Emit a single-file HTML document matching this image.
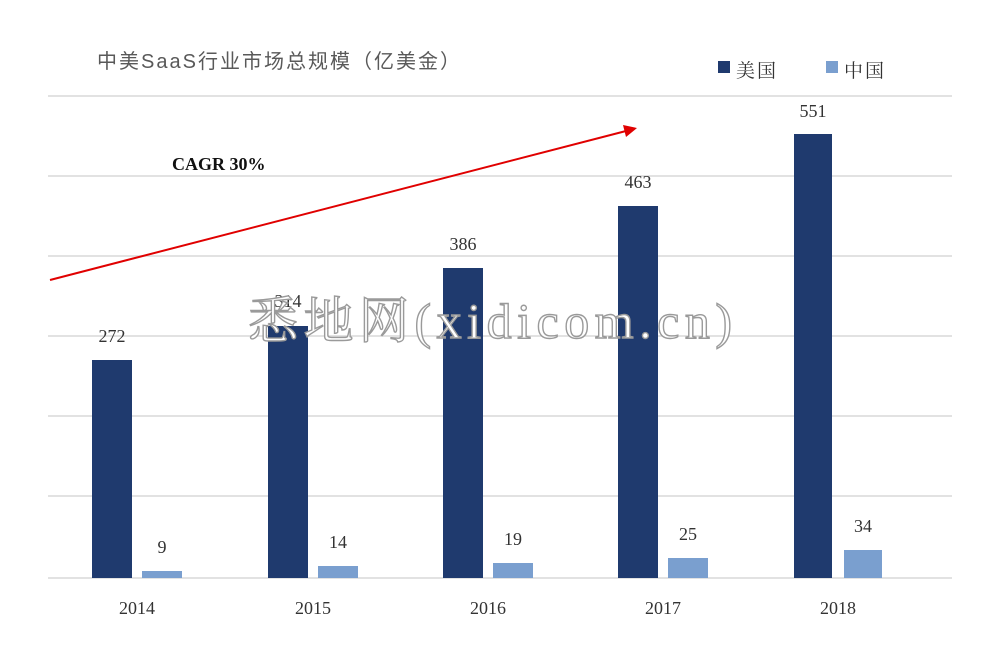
<!DOCTYPE html>
<html><head><meta charset="utf-8"><style>
html,body{margin:0;padding:0;background:#fff;}
svg{display:block;}
</style></head><body>
<svg width="988" height="652" viewBox="0 0 988 652" xmlns="http://www.w3.org/2000/svg">
<rect width="988" height="652" fill="#fff"/>
<text x="97" y="68" font-family="'Liberation Sans','Noto Sans CJK SC',sans-serif" font-size="20" fill="#595959" textLength="363" lengthAdjust="spacing">中美SaaS行业市场总规模（亿美金）</text>
<rect x="718" y="61" width="12" height="12" fill="#1f3a6e"/>
<text x="736" y="77" font-family="'Liberation Serif','Noto Serif CJK SC',serif" font-size="19" fill="#333" textLength="40">美国</text>
<rect x="826" y="61" width="12" height="12" fill="#7a9fcf"/>
<text x="844" y="77" font-family="'Liberation Serif','Noto Serif CJK SC',serif" font-size="19" fill="#333" textLength="40">中国</text>
<g stroke="#d9d9d9" stroke-width="1.5">
<line x1="48" y1="96" x2="952" y2="96"/>
<line x1="48" y1="176" x2="952" y2="176"/>
<line x1="48" y1="256" x2="952" y2="256"/>
<line x1="48" y1="336" x2="952" y2="336"/>
<line x1="48" y1="416" x2="952" y2="416"/>
<line x1="48" y1="496" x2="952" y2="496"/>
<line x1="48" y1="578" x2="952" y2="578"/>
</g>
<g fill="#1f3a6e">
<rect x="92" y="360" width="40" height="218"/>
<rect x="268" y="326" width="40" height="252"/>
<rect x="443" y="268" width="40" height="310"/>
<rect x="618" y="206" width="40" height="372"/>
<rect x="794" y="134" width="38" height="444"/>
</g>
<g fill="#7a9fcf">
<rect x="142" y="571" width="40" height="7"/>
<rect x="318" y="566" width="40" height="12"/>
<rect x="493" y="563" width="40" height="15"/>
<rect x="668" y="558" width="40" height="20"/>
<rect x="844" y="550" width="38" height="28"/>
</g>
<g font-family="'Liberation Serif',serif" font-size="18" fill="#333" text-anchor="middle">
<text x="112" y="342">272</text>
<text x="288" y="307">314</text>
<text x="463" y="250">386</text>
<text x="638" y="188">463</text>
<text x="813" y="117">551</text>
<text x="162" y="553">9</text>
<text x="338" y="548">14</text>
<text x="513" y="545">19</text>
<text x="688" y="540">25</text>
<text x="863" y="532">34</text>
<text x="137" y="614">2014</text>
<text x="313" y="614">2015</text>
<text x="488" y="614">2016</text>
<text x="663" y="614">2017</text>
<text x="838" y="614">2018</text>
</g>
<text x="172" y="170" font-family="'Liberation Serif',serif" font-size="18" font-weight="bold" fill="#111">CAGR 30%</text>
<line x1="50" y1="280" x2="626" y2="131" stroke="#e00000" stroke-width="2"/>
<polygon points="637,128 623,125 626,137" fill="#e00000"/>
<text x="248" y="338" font-family="'Liberation Serif','Noto Serif CJK SC',serif" font-size="50" fill="#fff" stroke="#9a9a9a" stroke-width="1.4" textLength="484">悉地网(xidicom.cn)</text>
</svg>
</body></html>
